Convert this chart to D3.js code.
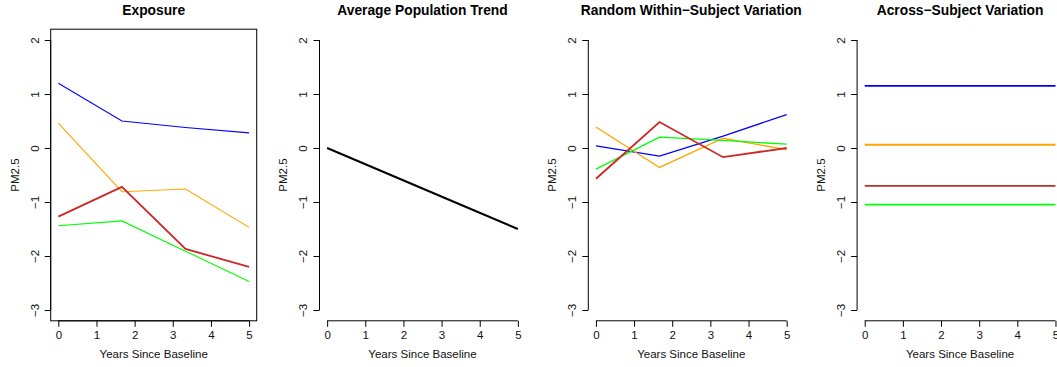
<!DOCTYPE html>
<html>
<head>
<meta charset="utf-8">
<script src="https://cdn.jsdelivr.net/npm/d3@7"></script>
<style>
  html, body { margin: 0; padding: 0; background: #fff; overflow: hidden; }
  svg { display: block; font-family: "Liberation Sans", Arial, Helvetica, sans-serif; }
</style>
</head>
<body>
<svg id="chart" width="1057" height="367"></svg>
<script>
// Follow-up times (years since baseline)
const years = [0, 1.667, 3.333, 5];
const xTicks = [0, 1, 2, 3, 4, 5];
const yTicks = [-3, -2, -1, 0, 1, 2];

// Subjects and their colours
const subjects = ["blue", "orange", "red", "green"];
const subjectColors = ["#0000FF", "#FFA500", "#CD2626", "#00FF00"];

// Total exposure per subject
const exposureBlue   = [1.20, 0.50, 0.38, 0.28];
const exposureOrange = [0.46, -0.81, -0.76, -1.47];
const exposureRed    = [-1.27, -0.72, -1.87, -2.20];
const exposureGreen  = [-1.44, -1.35, -1.91, -2.47];

// Average population trend
const trend = [0, -0.5, -1.0, -1.5];

// Random within-subject deviations
const withinBlue   = [0.04, -0.15, 0.22, 0.62];
const withinOrange = [0.39, -0.36, 0.18, -0.03];
const withinRed    = [-0.57, 0.48, -0.17, 0.0];
const withinGreen  = [-0.39, 0.20, 0.14, 0.07];

// Subject-level offsets (constant over time)
const acrossBlue   = [1.15, 1.15, 1.15, 1.15];
const acrossOrange = [0.06, 0.06, 0.06, 0.06];
const acrossRed    = [-0.70, -0.70, -0.70, -0.70];
const acrossGreen  = [-1.05, -1.05, -1.05, -1.05];

const panelTitles = ["Exposure", "Average Population Trend",
                     "Random Within\u2212Subject Variation", "Across\u2212Subject Variation"];

const panels = [
  { box: true,  series: [
      { v: exposureBlue, c: subjectColors[0], w: 1.1 },
      { v: exposureOrange, c: subjectColors[1], w: 1.1 },
      { v: exposureGreen, c: subjectColors[3], w: 1.1 },
      { v: exposureRed, c: subjectColors[2], w: 1.8 } ] },
  { box: false, series: [ { v: trend, c: "#000000", w: 2 } ] },
  { box: false, series: [
      { v: withinBlue, c: subjectColors[0], w: 1.3 },
      { v: withinOrange, c: subjectColors[1], w: 1.3 },
      { v: withinGreen, c: subjectColors[3], w: 1.3 },
      { v: withinRed, c: subjectColors[2], w: 1.8 } ] },
  { box: false, series: [
      { v: acrossBlue, c: subjectColors[0], w: 1.8 },
      { v: acrossOrange, c: subjectColors[1], w: 1.8 },
      { v: acrossRed, c: "#B8302C", w: 1.8 },
      { v: acrossGreen, c: subjectColors[3], w: 1.8 } ] }
];

const svg = d3.select("#chart");
const fmt = d => (d < 0 ? "\u2212" + Math.abs(d) : String(d));

const plotLeft0 = 50.7, panelStep = 268.8, plotW = 206;
const plotTop = 29.2, plotBottom = 320.8;

panels.forEach((p, i) => {
  const left = plotLeft0 + i * panelStep;
  const x = d3.scaleLinear().domain([-0.2, 5.2]).range([left, left + plotW]);
  const y = d3.scaleLinear().domain([-3.2, 2.2]).range([plotBottom, plotTop]);
  const g = svg.append("g");

  // title
  g.append("text")
    .attr("x", left + plotW / 2).attr("y", 14.5)
    .attr("text-anchor", "middle")
    .attr("font-size", 13.8).attr("font-weight", "bold")
    .attr("fill", "#000")
    .text(panelTitles[i]);

  // x axis
  const xa = g.append("g").attr("transform", `translate(0,${plotBottom})`)
    .call(d3.axisBottom(x).tickValues(xTicks).tickFormat(fmt).tickSize(6).tickPadding(4));
  xa.select(".domain").remove();
  xa.append("line").attr("x1", x(0)).attr("x2", x(5)).attr("stroke", "#000");
  xa.selectAll("text").attr("font-size", 11.5).attr("fill", "#111").attr("font-family", null);
  xa.selectAll(".tick line").attr("stroke", "#000");

  // y axis
  const ya = g.append("g").attr("transform", `translate(${left},0)`)
    .call(d3.axisLeft(y).tickValues(yTicks).tickFormat(fmt).tickSize(6));
  ya.select(".domain").remove();
  ya.append("line").attr("y1", y(-3)).attr("y2", y(2)).attr("stroke", "#000");
  ya.selectAll(".tick line").attr("stroke", "#000");
  ya.selectAll("text")
    .attr("x", null).attr("dy", null)
    .attr("text-anchor", "middle")
    .attr("transform", "translate(-12.2,0) rotate(-90)")
    .attr("font-size", 11.5).attr("fill", "#111").attr("font-family", null);

  // axis titles
  g.append("text")
    .attr("x", left + plotW / 2).attr("y", 358)
    .attr("text-anchor", "middle").attr("font-size", 11.5).attr("fill", "#111")
    .text("Years Since Baseline");
  g.append("text")
    .attr("transform", `translate(${left - 32.2},${(plotTop + plotBottom) / 2}) rotate(-90)`)
    .attr("text-anchor", "middle").attr("font-size", 11.5).attr("fill", "#111")
    .text("PM2.5");

  if (p.box) {
    g.append("rect")
      .attr("x", left).attr("y", plotTop)
      .attr("width", plotW).attr("height", plotBottom - plotTop)
      .attr("fill", "none").attr("stroke", "#000");
  }

  const line = d3.line().x((d, k) => x(years[k])).y(d => y(d));
  p.series.forEach(s => {
    g.append("path")
      .attr("d", line(s.v))
      .attr("fill", "none")
      .attr("stroke", s.c)
      .attr("stroke-width", s.w);
  });
});
</script>
</body>
</html>
